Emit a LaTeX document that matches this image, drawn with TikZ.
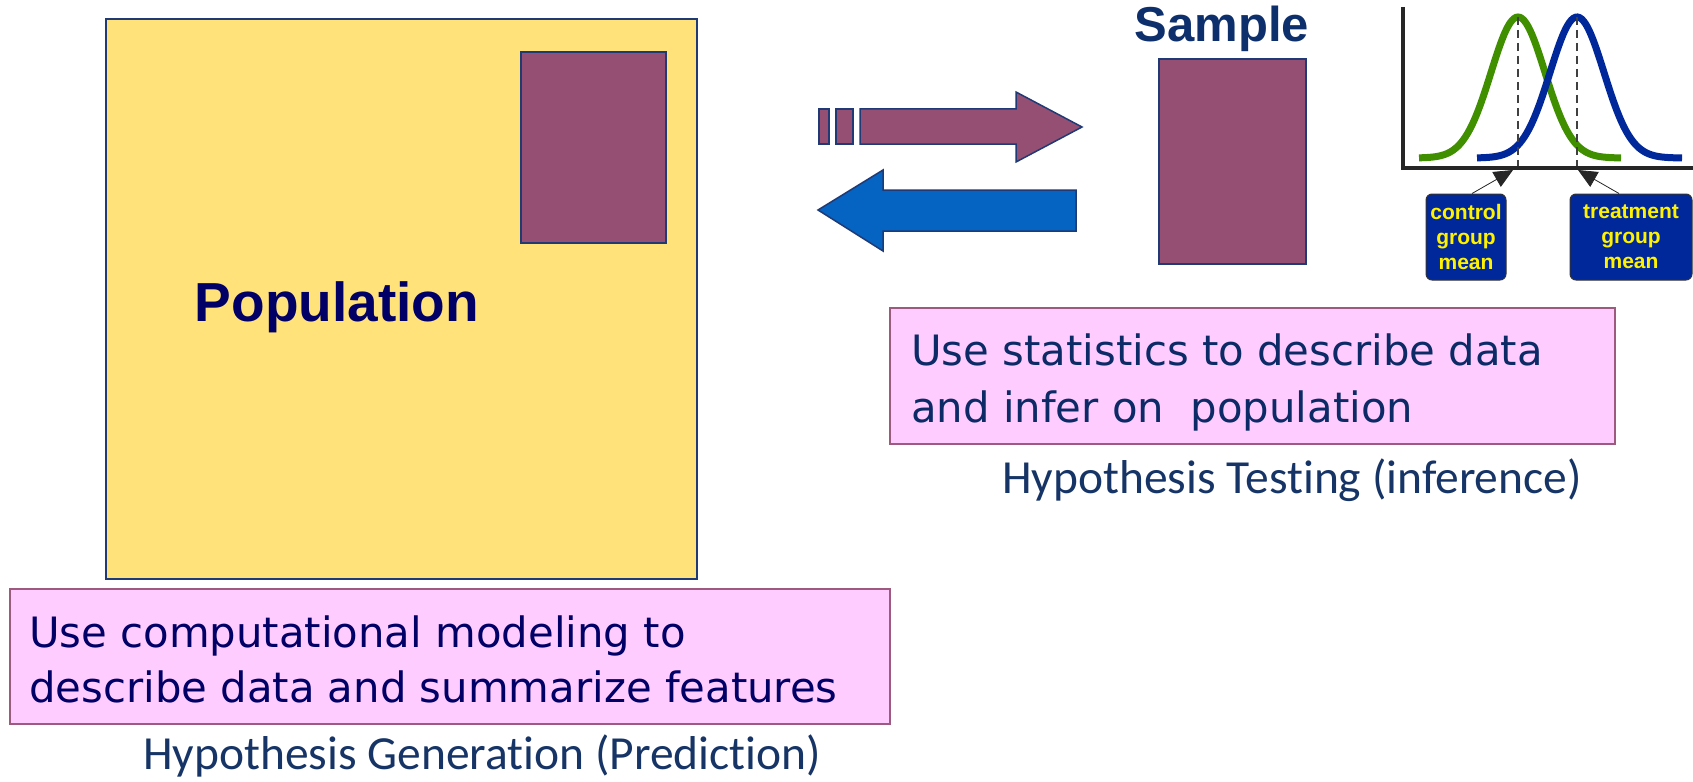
\documentclass[tikz,border=0pt]{standalone}
\usepackage{fontspec}
\setmainfont{DejaVu Sans}
\newfontfamily\headfont{Liberation Sans}
\newfontfamily\capfont[Ligatures=NoCommon]{Carlito}
\usetikzlibrary{arrows.meta}

\definecolor{popyellow}{HTML}{FFE27A}
\definecolor{mauve}{HTML}{954F72}
\definecolor{edgenavy}{HTML}{1F3A74}
\definecolor{pinkfill}{HTML}{FFCCFF}
\definecolor{pinkedge}{HTML}{9E5A7E}
\definecolor{inknavy}{HTML}{000066}
\definecolor{boxink}{HTML}{0B2A66}
\definecolor{capblue}{HTML}{163566}
\definecolor{titleblue}{HTML}{0D2F6B}
\definecolor{arrowblue}{HTML}{0563C1}
\definecolor{meanblue}{HTML}{00289A}
\definecolor{curvegreen}{HTML}{3F8F00}
\definecolor{curveblue}{HTML}{00289A}

\tikzset{
  popbox/.style={draw=edgenavy, line width=2pt, fill=popyellow, inner sep=0pt, anchor=north west},
  samplebox/.style={draw=edgenavy, line width=2pt, fill=mauve, inner sep=0pt, anchor=north west},
  pinkbox/.style={draw=pinkedge, line width=2pt, fill=pinkfill, inner sep=0pt, anchor=north west},
  bodytext/.style={font=\fontsize{41.8}{55}\selectfont, inner sep=0pt, anchor=base west},
  captext/.style={font=\capfont\fontsize{47.5}{52}\selectfont, text=capblue, inner sep=0pt, anchor=base},
  meanbox/.style={draw=black!80, line width=1pt, fill=meanblue, rounded corners=6pt,
    text=yellow, align=center, inner sep=0pt,
    font=\headfont\bfseries\fontsize{21}{25}\selectfont},
  bigarrow/.style={draw=edgenavy, line width=1.5pt, line join=miter},
  bellcurve/.style={line width=7pt, line cap=butt},
  meanline/.style={draw=black!75, line width=1.3pt, dash pattern=on 8pt off 5pt},
  pointer/.style={draw=black!85, line width=0.8pt, -{Triangle[length=19pt,width=17pt]}},
}

\begin{document}
\begin{tikzpicture}[x=1pt,y=-1pt]
\useasboundingbox (0,0) rectangle (1693,781);

% population with a sample drawn from it
\node[popbox, minimum width=591pt, minimum height=560pt] (population) at (105,18) {};
\node[samplebox, minimum width=145pt, minimum height=191pt] (subset) at (520,51) {};
\node[font=\headfont\bfseries\fontsize{55}{60}\selectfont, text=inknavy, inner sep=0pt, anchor=base]
  (poplabel) at (337,321) {Population};

% arrows between population and sample
\fill[mauve, draw=edgenavy, line width=1.5pt] (819,109) rectangle (829,144);
\fill[mauve, draw=edgenavy, line width=1.5pt] (836,109) rectangle (853,144);
\filldraw[bigarrow, fill=mauve] (860,109) -- (1016,109) -- (1016,92) -- (1082,127)
  -- (1016,162) -- (1016,144) -- (860,144) -- cycle;
\filldraw[bigarrow, fill=arrowblue] (818,210) -- (883,170) -- (883,190) -- (1076,190)
  -- (1076,231) -- (883,231) -- (883,251) -- cycle;

% the sample
\node[font=\headfont\bfseries\fontsize{49}{55}\selectfont, text=titleblue, inner sep=0pt, anchor=base]
  (samplelabel) at (1222,42) {Sample};
\node[samplebox, minimum width=147pt, minimum height=205pt] (sample) at (1158,58) {};

% two group distributions
\draw[bellcurve, curvegreen] plot[domain=-99:103, samples=101, smooth]
  ({1518+\x}, {158-141*exp(-(\x*\x)/1458)});
\draw[bellcurve, curveblue] plot[domain=-100:105, samples=101, smooth]
  ({1577+\x}, {158-141*exp(-(\x*\x)/1458)});
\draw[meanline] (1518,17) -- (1518,168);
\draw[meanline] (1577,17) -- (1577,168);
\draw[black!85, line width=4pt] (1403,7) -- (1403,168) -- (1693,168);

\coordinate (ctrltip) at (1513,170);
\coordinate (treattip) at (1578,170);
\node[meanbox, minimum width=80pt, minimum height=86pt] (ctrl) at (1466,237) {control\\group\\mean};
\node[meanbox, minimum width=122pt, minimum height=86pt] (treat) at (1631,237) {treatment\\group\\mean};
\draw[pointer] ([xshift=6pt]ctrl.north) -- (ctrltip);
\draw[pointer] ([xshift=-12pt]treat.north) -- (treattip);

% inference box
\node[pinkbox, minimum width=725pt, minimum height=136pt] (inferbox) at (889,307) {};
\node[bodytext, text=boxink] (infer1) at (911,365) {Use statistics to describe data};
\node[bodytext, text=boxink] (infer2) at (911,422) {and infer on~\ population};
\node[captext] (infercap) at (1292,493) {Hypothesis Testing (inference)};

% modeling box
\node[pinkbox, minimum width=880pt, minimum height=135pt] (modelbox) at (9,588) {};
\node[bodytext, text=inknavy] (model1) at (29,647) {Use computational modeling to};
\node[bodytext, text=inknavy] (model2) at (29,702) {describe data and summarize features};
\node[captext] (modelcap) at (482,769) {Hypothesis Generation (Prediction)};
\end{tikzpicture}
\end{document}
